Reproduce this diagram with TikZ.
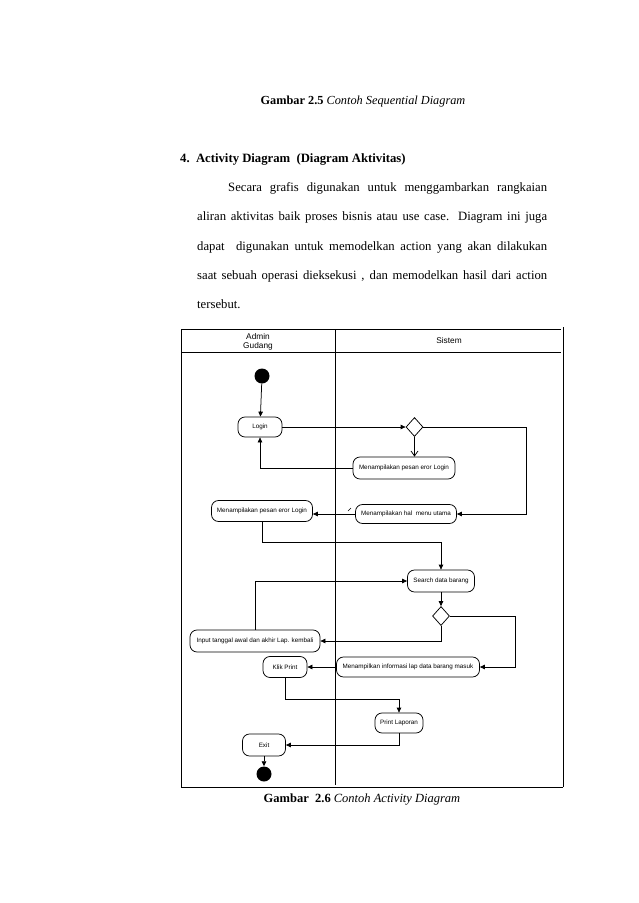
\documentclass[tikz,border=0pt]{standalone}
\usepackage{fontspec}
\setmainfont{Liberation Serif}
\newfontfamily\arialf{Liberation Sans}
\usetikzlibrary{arrows.meta,shapes.geometric}
\tikzset{
  act/.style={draw, rounded corners=7pt, minimum height=20pt, inner sep=1pt,
    font=\arialf\fontsize{6.3}{6.8}\selectfont, line width=0.75pt},
  dec/.style={draw, diamond, minimum width=17pt, minimum height=19pt, inner sep=0pt, line width=0.75pt},
  dot/.style={circle, fill=black, minimum size=15pt, inner sep=0pt},
  flow/.style={line width=0.75pt, -{Triangle[length=5pt,width=4.5pt]}},
  openflow/.style={line width=0.75pt, -{Straight Barb[length=5pt,width=7pt]}},
  lane/.style={line width=0.9pt},
  hdr/.style={font=\arialf\fontsize{8.3}{8.8}\selectfont, align=center, inner sep=0pt},
  body/.style={anchor=base west, inner sep=0pt, font=\fontsize{12.7}{14}\selectfont}
}
\begin{document}
\begin{tikzpicture}[x=1pt,y=-1pt]
\path[use as bounding box, fill=white] (0,0) rectangle (638,903);

% texts
\node[anchor=base, inner sep=0pt, font=\fontsize{12.3}{14}\selectfont] (cap1) at (363,104) {\textbf{Gambar\ 2.5} \textit{Contoh Sequential Diagram}};
\node[body] (head) at (180,162) {\textbf{4.\ \ Activity Diagram\ \ (Diagram Aktivitas)}};
\node[body] (l1) at (228,191) {\makebox[319pt][s]{Secara grafis digunakan untuk menggambarkan rangkaian}};
\node[body] (l2) at (197,220) {\makebox[350pt][s]{aliran aktivitas baik proses bisnis atau use case. Diagram ini juga}};
\node[body] (l3) at (197,250) {\makebox[350pt][s]{dapat\ \ digunakan untuk memodelkan action yang akan dilakukan}};
\node[body] (l4) at (197,279) {\makebox[350pt][s]{saat sebuah operasi dieksekusi , dan memodelkan hasil dari action}};
\node[body] (l5) at (197,308) {tersebut.};
\node[anchor=base, inner sep=0pt, font=\fontsize{12.5}{14}\selectfont] (cap2) at (362,802) {\textbf{Gambar\ \ 2.6} \textit{Contoh Activity Diagram}};

% swimlane frame
\draw[lane] (181,329) -- (561,329);
\draw[lane] (181,352) -- (561,352);
\draw[lane] (181,329) -- (181,787) -- (563,787);
\draw[lane] (563,327) -- (563,787);
\draw[lane] (335,329) -- (335,785);
\node[hdr] (hA) at (258,342) {Admin\\Gudang};
\node[hdr] (hS) at (449,341) {Sistem};

% nodes
\node[dot] (start) at (262,376) {};
\node[act, minimum width=44pt] (login) at (260,427) {Login};
\node[dec] (d1) at (414.5,427) {};
\node[act, minimum width=102pt, minimum height=22pt] (errS) at (404,468) {Menampilakan pesan eror Login};
\node[act, minimum width=101pt, minimum height=19pt] (menu) at (406,514) {Menampilakan hal\ \ menu utama};
\node[act, minimum width=101pt, minimum height=21pt] (errA) at (262,511) {Menampilakan pesan eror Login};
\node[act, minimum width=67pt, minimum height=22pt] (search) at (441,581) {Search data barang};
\node[dec] (d2) at (441,616) {};
\node[act, minimum width=130pt, minimum height=22pt] (input) at (255,641) {Input tanggal awal dan akhir Lap. kembali};
\node[act, minimum width=143pt, minimum height=20pt] (info) at (408,667) {Menampilkan informasi lap data barang masuk};
\node[act, minimum width=44pt, minimum height=21pt] (klik) at (285,667) {Klik Print};
\node[act, minimum width=48pt, minimum height=20pt] (print) at (399,723) {Print Laporan};
\node[act, minimum width=43pt, minimum height=22pt] (exit) at (264,745) {Exit};
\node[dot] (end) at (264,774) {};

% helper coordinates
\coordinate (r1) at (526,427);
\coordinate (r2) at (515,616);
\coordinate (b1) at (262,542);
\coordinate (b2) at (285,699);

% connectors
\draw[flow] (start) -- (login);
\draw[flow] (login) -- (d1);
\draw[openflow] (d1.south) -- (d1.south |- errS.north);
\draw[flow] (errS.west) -| (login.south);
\draw[flow] (d1.east) -- (r1) |- (menu.east);
\draw[flow] (menu.west) -- (menu.west -| errA.east);
\draw[line width=0.6pt] (348,511) -- (351,508);
\draw[flow] (errA.south) -- (b1) -| (search.north);
\draw[flow] (input.north) |- (search.west);
\draw[flow] (search) -- (d2);
\draw[flow] (d2.south) |- (input.east);
\draw[flow] (d2.east) -- (r2) |- (info.east);
\draw[flow] (info.west) -- (klik.east);
\draw[flow] (klik.south) -- (b2) -| (print.north);
\draw[flow] (print.south) |- (exit.east);
\draw[flow] (exit) -- (end);
\end{tikzpicture}
\end{document}
